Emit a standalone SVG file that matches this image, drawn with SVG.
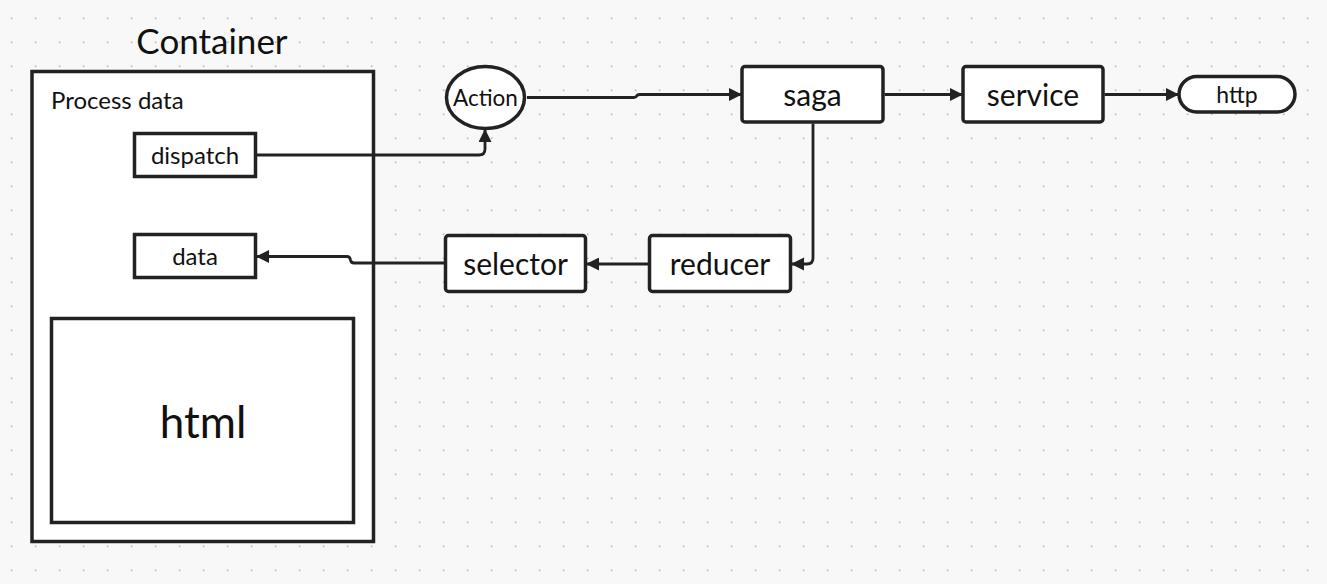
<svg xmlns="http://www.w3.org/2000/svg" width="1327" height="584" viewBox="0 0 1327 584">
<defs>
<pattern id="dots" x="0" y="0" width="24" height="24" patternUnits="userSpaceOnUse">
<circle cx="11.7" cy="18.3" r="1" fill="#bdbdbd"/>
</pattern>
<marker id="arr" viewBox="0 0 13 13" refX="12" refY="6.5" markerWidth="13" markerHeight="13" markerUnits="userSpaceOnUse" orient="auto">
<path d="M0,0 L13,6.5 L0,13 Z" fill="#222"/>
</marker>
</defs>
<style>
.box{fill:#fff;stroke:#222;stroke-width:3.5}
.t{font-family:Lato,"Noto Sans",sans-serif;fill:#111;text-anchor:middle;dominant-baseline:central}
.conn{fill:none;stroke:#222;stroke-width:2.8;marker-end:url(#arr)}
</style>
<rect width="1327" height="584" fill="#f8f8f8"/>
<rect width="1327" height="584" fill="url(#dots)"/>
<g id="container">
<text class="t" x="212" y="40" font-size="35">Container</text>
<rect class="box" x="32" y="71.5" width="341.5" height="470"/>
<text class="t" x="51" y="99" font-size="24" style="text-anchor:start">Process data</text>
</g>
<g id="dispatch">
<rect class="box" x="134.5" y="133.5" width="121" height="43"/>
<text class="t" x="195" y="154.5" font-size="24">dispatch</text>
</g>
<g id="data">
<rect class="box" x="134.5" y="234.5" width="121" height="43"/>
<text class="t" x="195" y="255.5" font-size="24">data</text>
</g>
<g id="html">
<rect class="box" x="51.5" y="318.5" width="302" height="204"/>
<text class="t" x="203" y="421" font-size="44">html</text>
</g>
<g id="action">
<ellipse class="box" cx="485.5" cy="97.5" rx="39" ry="31"/>
<text class="t" x="485.5" y="97" font-size="22.5">Action</text>
</g>
<g id="saga">
<rect class="box" x="742" y="66.5" width="141" height="55.5" rx="3"/>
<text class="t" x="812.5" y="94" font-size="30">saga</text>
</g>
<g id="service">
<rect class="box" x="963" y="66.5" width="140" height="55.5" rx="3"/>
<text class="t" x="1033" y="94" font-size="30">service</text>
</g>
<g id="http">
<rect class="box" x="1179" y="76.5" width="116" height="35.5" rx="17.75"/>
<text class="t" x="1237" y="94" font-size="23">http</text>
</g>
<g id="selector">
<rect class="box" x="445.5" y="235.5" width="140" height="56" rx="3"/>
<text class="t" x="515.5" y="263" font-size="30">selector</text>
</g>
<g id="reducer">
<rect class="box" x="649.5" y="235.5" width="141" height="56" rx="3"/>
<text class="t" x="720" y="263" font-size="30">reducer</text>
</g>
<g id="connectors">
<path class="conn" d="M257,155 H479 Q485,155 485,149 V130"/>
<path class="conn" d="M527,97.5 H634 Q636,97.5 637,95.5 Q638,94.5 640,94.5 H741"/>
<path class="conn" d="M884.5,94.5 H962"/>
<path class="conn" d="M1104.5,94.5 H1178"/>
<path class="conn" d="M813,123.5 V258 Q813,264 807,264 H792"/>
<path class="conn" d="M648,264 H587"/>
<path class="conn" d="M444,263 H354 Q351,263 350.5,260 Q350,256.5 347,256.5 H257"/>
</g>
</svg>
